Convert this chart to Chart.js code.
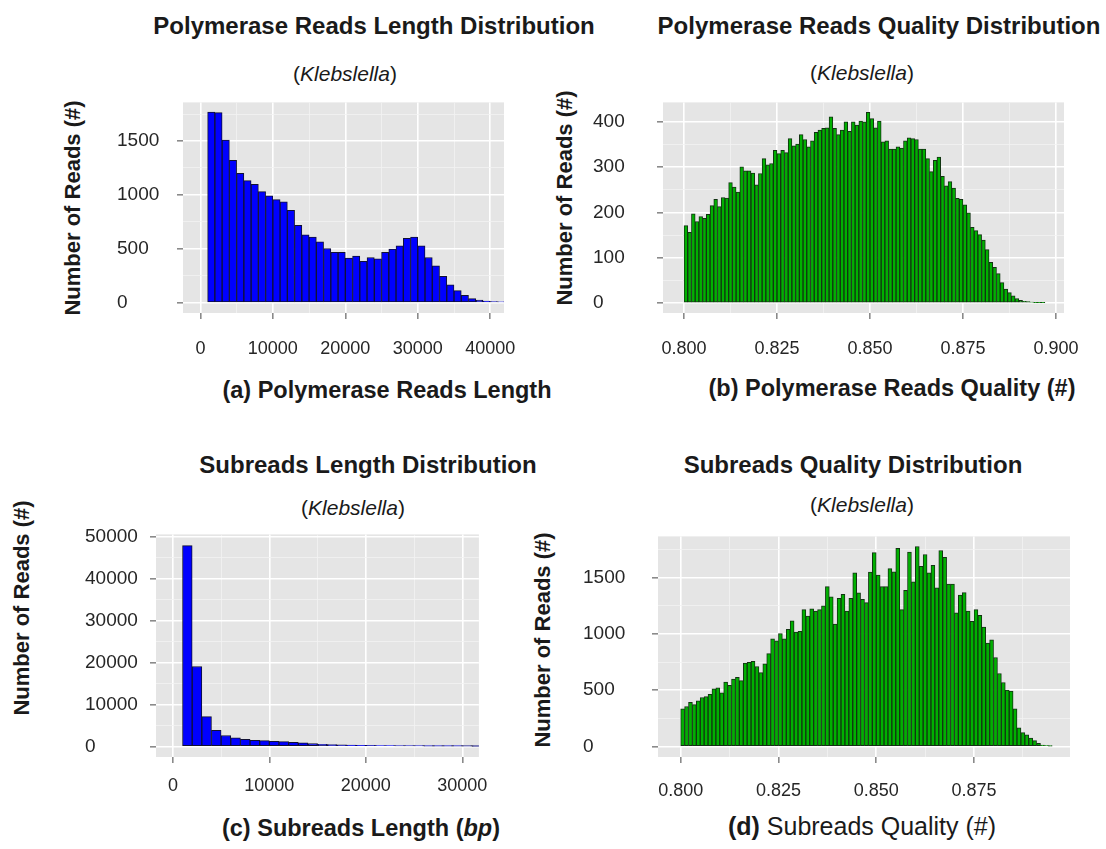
<!DOCTYPE html>
<html>
<head>
<meta charset="utf-8">
<script src="https://cdn.jsdelivr.net/npm/chart.js"></script>
<style>
body { margin: 0; background: #fff; width: 1106px; height: 849px; position: relative; overflow: hidden;
       font-family: "Liberation Sans", Arial, sans-serif; color: #1a1a1a; }
canvas { position: absolute; }
.t { position: absolute; white-space: nowrap; transform: translate(-50%, -50%); }
.title { font-weight: bold; font-size: 24px; }
.sub { font-size: 21px; }
.xtitle { font-weight: bold; font-size: 23.5px; }
.ytitle { font-weight: bold; font-size: 22px; transform: translate(-50%, -50%) rotate(-90deg); }
</style>
</head>
<body>

<div class="t title" style="left:374px; top:26px">Polymerase Reads Length Distribution</div>
<div class="t sub" style="left:345px; top:74px">(<i>Klebslella</i>)</div>
<div class="t ytitle" style="left:73px; top:208px">Number of Reads (#)</div>
<div class="t xtitle" style="left:387px; top:390px">(a) Polymerase Reads Length</div>

<div class="t title" style="left:879px; top:26px">Polymerase Reads Quality Distribution</div>
<div class="t sub" style="left:862px; top:73px">(<i>Klebslella</i>)</div>
<div class="t ytitle" style="left:565px; top:198px">Number of Reads (#)</div>
<div class="t xtitle" style="left:892px; top:388px">(b) Polymerase Reads Quality (#)</div>

<div class="t title" style="left:368px; top:465px">Subreads Length Distribution</div>
<div class="t sub" style="left:353px; top:508px">(<i>Klebslella</i>)</div>
<div class="t ytitle" style="left:22px; top:608px">Number of Reads (#)</div>
<div class="t xtitle" style="left:361px; top:828px">(c) Subreads Length (<i>bp</i>)</div>

<div class="t title" style="left:853px; top:465px">Subreads Quality Distribution</div>
<div class="t sub" style="left:862px; top:505px">(<i>Klebslella</i>)</div>
<div class="t ytitle" style="left:543px; top:640px">Number of Reads (#)</div>
<div class="t xtitle" style="left:862px; top:826px; font-size:25px">(d) <span style="font-weight:normal">Subreads Quality (#)</span></div>

<canvas id="polyLen" width="425" height="285" style="left:110px; top:88px"></canvas>
<canvas id="polyQual" width="512" height="285" style="left:588px; top:88px"></canvas>
<canvas id="subLen" width="420" height="287" style="left:80px; top:520px"></canvas>
<canvas id="subQual" width="522" height="285" style="left:578px; top:522px"></canvas>

<script>
// (a) polymerase read length, 1000 bp bins starting at 1000
var polyLenStart = 1000, polyLenWidth = 1000;
var polyLenCounts = [1769, 1763, 1509, 1320, 1201, 1133, 1098, 1030, 991, 956,
                     935, 858, 719, 630, 609, 565, 503, 467, 467, 414,
                     432, 385, 420, 408, 467, 497, 527, 598, 609, 527,
                     420, 343, 246, 166, 112, 68, 38, 24, 15, 12, 9];
var polyLenXMajor = [0, 10000, 20000, 30000, 40000];
var polyLenXMinor = [5000, 15000, 25000, 35000];
var polyLenYMajor = [0, 500, 1000, 1500];
var polyLenYMinor = [250, 750, 1250, 1750];

// (b) polymerase read quality, 0.001 bins starting at 0.800
var polyQualStart = 0.800, polyQualWidth = 0.001;
var polyQualCounts = [171, 156, 197, 180, 191, 187, 196, 215, 229, 213,
                      233, 232, 266, 256, 245, 301, 292, 292, 287, 261,
                      286, 319, 305, 308, 337, 330, 337, 332, 363, 347,
                      351, 372, 361, 345, 358, 377, 382, 386, 387, 411,
                      386, 372, 382, 400, 379, 400, 393, 402, 400, 421,
                      407, 387, 402, 356, 358, 340, 340, 345, 342, 358,
                      365, 363, 361, 340, 340, 319, 290, 315, 322, 280,
                      259, 268, 254, 231, 229, 217, 199, 167, 160, 151,
                      139, 118, 90, 79, 65, 45, 31, 23, 16, 10,
                      6, 4, 3, 2, 1, 1, 1];
var polyQualXMajor = [0.800, 0.825, 0.850, 0.875, 0.900];
var polyQualXMinor = [0.8125, 0.8375, 0.8625, 0.8875];
var polyQualYMajor = [0, 100, 200, 300, 400];
var polyQualYMinor = [50, 150, 250, 350];

// (c) subread length, 1000 bp bins starting at 1000
var subLenStart = 1000, subLenWidth = 1000;
var subLenCounts = [47940, 19080, 7100, 3820, 2600, 2060, 1680, 1450, 1370, 1220,
                    1150, 990, 840, 690, 530, 460, 380, 320, 280, 240,
                    200, 170, 140, 120, 100, 80, 70, 60, 50, 40, 30];
var subLenXMajor = [0, 10000, 20000, 30000];
var subLenXMinor = [5000, 15000, 25000];
var subLenYMajor = [0, 10000, 20000, 30000, 40000, 50000];
var subLenYMinor = [5000, 15000, 25000, 35000, 45000];

// (d) subread quality, 0.001 bins starting at 0.800
var subQualStart = 0.800, subQualWidth = 0.001;
var subQualCounts = [335, 355, 392, 372, 406, 435, 443, 463, 511, 520,
                     477, 571, 543, 599, 614, 585, 741, 747, 756, 710,
                     656, 733, 824, 955, 938, 1003, 955, 1040, 1116, 1017,
                     1023, 1216, 1159, 1222, 1202, 1216, 1250, 1420, 1330, 1088,
                     1315, 1352, 1202, 1315, 1543, 1364, 1307, 1278, 1548, 1722,
                     1523, 1420, 1420, 1580, 1551, 1761, 1216, 1386, 1727, 1463,
                     1776, 1600, 1705, 1543, 1608, 1409, 1741, 1679, 1443, 1443,
                     1188, 1344, 1366, 1202, 1111, 1216, 1165, 1060, 918, 946,
                     790, 648, 568, 500, 491, 335, 165, 122, 102, 74,
                     51, 28, 11, 6, 3];
var subQualXMajor = [0.800, 0.825, 0.850, 0.875];
var subQualXMinor = [0.8125, 0.8375, 0.8625, 0.8875];
var subQualYMajor = [0, 500, 1000, 1500];
var subQualYMinor = [250, 750, 1250, 1750];

var BLUE = '#0000ff', GREEN = '#00b000';

// grey ggplot-like panel behind the bars
var panelBg = {
    id: 'panelBg',
    beforeDraw: function (chart) {
        var a = chart.chartArea, ctx = chart.ctx;
        ctx.save();
        ctx.fillStyle = '#e5e5e5';
        ctx.fillRect(a.left, a.top, a.right - a.left, a.bottom - a.top);
        ctx.restore();
    }
};

function histPoints(start, width, counts) {
    return counts.map(function (c, i) {
        return { x: start + width * (i + 0.5), y: c };
    });
}

function axisOpts(major, minor, min, max, fmt, extra) {
    var all = major.concat(minor).sort(function (a, b) { return a - b; });
    var isMajor = function (c) { return c.tick && major.indexOf(c.tick.value) >= 0; };
    var o = {
        type: 'linear',
        min: min,
        max: max,
        offset: false,
        afterBuildTicks: function (s) {
            s.ticks = all.map(function (v) { return { value: v }; });
        },
        grid: {
            offset: false,
            color: function (c) { return isMajor(c) ? '#ffffff' : '#f2f2f2'; },
            lineWidth: function (c) { return isMajor(c) ? 1.6 : 0.8; },
            tickColor: function (c) { return isMajor(c) ? '#8a8a8a' : 'rgba(0,0,0,0)'; },
            tickLength: 6
        },
        border: { display: false },
        ticks: {
            autoSkip: false,
            maxRotation: 0,
            color: '#262626',
            font: { family: 'Liberation Sans', size: 18 },
            callback: function (v) { return major.indexOf(v) >= 0 ? fmt(v) : ''; }
        }
    };
    for (var k in extra.ticks) o.ticks[k] = extra.ticks[k];
    o.afterFit = extra.afterFit;
    return o;
}

function createHist(id, p) {
    return new Chart(id, {
        type: 'bar',
        data: {
            datasets: [{
                data: histPoints(p.start, p.width, p.counts),
                backgroundColor: p.color,
                borderColor: p.border,
                borderWidth: 1,
                borderSkipped: false,
                barPercentage: 1,
                categoryPercentage: 1
            }]
        },
        options: {
            responsive: false,
            animation: false,
            layout: { padding: p.pad },
            plugins: { legend: { display: false }, tooltip: { enabled: false } },
            scales: {
                x: axisOpts(p.xMajor, p.xMinor, p.xMin, p.xMax, p.xFmt, {
                    ticks: { padding: p.xPad },
                    afterFit: function (s) { s.height = p.xh; }
                }),
                y: axisOpts(p.yMajor, p.yMinor, p.yMin, p.yMax, String, {
                    ticks: { crossAlign: 'far', font: { family: 'Liberation Sans', size: 19 } },
                    afterFit: function (s) { s.width = p.yw; }
                })
            }
        },
        plugins: [panelBg]
    });
}

var plain = function (v) { return String(v); };
var three = function (v) { return v.toFixed(3); };

createHist('polyLen', {
    start: polyLenStart, width: polyLenWidth, counts: polyLenCounts,
    color: BLUE, border: '#111133',
    xMajor: polyLenXMajor, xMinor: polyLenXMinor, xMin: -2400, xMax: 41900, xFmt: plain,
    yMajor: polyLenYMajor, yMinor: polyLenYMinor, yMin: -95, yMax: 1858,
    pad: { left: 7, right: 17, top: 5, bottom: 0 }, yw: 66, xh: 60, xPad: 19
});

createHist('polyQual', {
    start: polyQualStart, width: polyQualWidth, counts: polyQualCounts,
    color: GREEN, border: '#123312',
    xMajor: polyQualXMajor, xMinor: polyQualXMinor, xMin: 0.79435, xMax: 0.90215, xFmt: three,
    yMajor: polyQualYMajor, yMinor: polyQualYMinor, yMin: -22, yMax: 443,
    pad: { left: 5, right: 36, top: 5, bottom: 0 }, yw: 70, xh: 60, xPad: 19
});

createHist('subLen', {
    start: subLenStart, width: subLenWidth, counts: subLenCounts,
    color: BLUE, border: '#111133',
    xMajor: subLenXMajor, xMinor: subLenXMinor, xMin: -1750, xMax: 31720, xFmt: plain,
    yMajor: subLenYMajor, yMinor: subLenYMinor, yMin: -2520, yMax: 50600,
    pad: { left: 5, right: 13, top: 5, bottom: 0 }, yw: 71, xh: 50, xPad: 12
});

createHist('subQual', {
    start: subQualStart, width: subQualWidth, counts: subQualCounts,
    color: GREEN, border: '#123312',
    xMajor: subQualXMajor, xMinor: subQualXMinor, xMin: 0.7942, xMax: 0.89955, xFmt: three,
    yMajor: subQualYMajor, yMinor: subQualYMinor, yMin: -94, yMax: 1866,
    pad: { left: 5, right: 30, top: 5, bottom: 0 }, yw: 75, xh: 50, xPad: 17
});
</script>
</body>
</html>
